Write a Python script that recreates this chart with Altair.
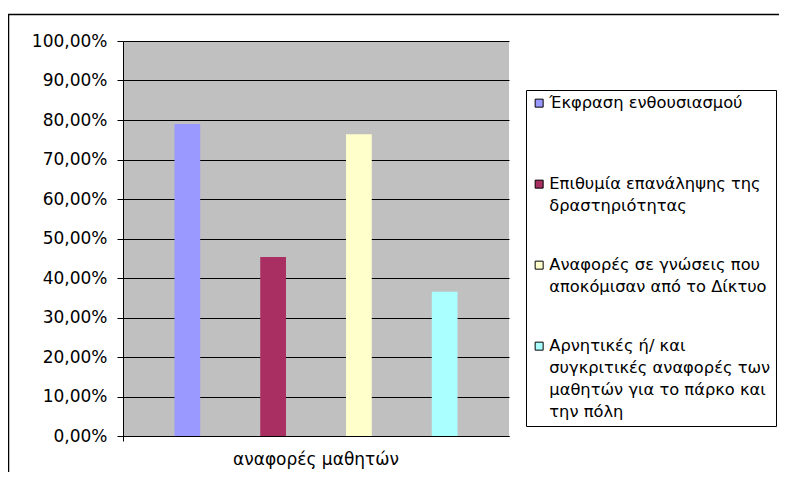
import altair as alt
import pandas as pd

category = ["αναφορές μαθητών"] * 4
series = [
    "Έκφραση ενθουσιασμού| ",
    "Επιθυμία επανάληψης της|δραστηριότητας",
    "Αναφορές σε γνώσεις που|αποκόμισαν από το Δίκτυο",
    "Αρνητικές ή/ και|συγκριτικές αναφορές των|μαθητών για το πάρκο και|την πόλη",
]
values = [0.790, 0.453, 0.764, 0.365]
colors = ["#9999FF", "#A92E62", "#FFFFCC", "#AAFFFF"]
y_ticks = [0, 0.1, 0.2, 0.3, 0.4, 0.5, 0.6, 0.7, 0.8, 0.9, 1.0]

df = pd.DataFrame({"category": category, "series": series, "value": values})

FONT = "DejaVu Sans"
DY = -8  # shared label shift (legend first line aligned with its swatch)

bars = alt.Chart(df).mark_bar().encode(
    x=alt.X(
        "category:N",
        title=None,
        scale=alt.Scale(paddingInner=0, paddingOuter=0),
        axis=alt.Axis(
            labelAngle=0, labelFont=FONT, labelFontSize=17, labelColor="black",
            labelPadding=10 - DY, tickColor="black", tickSize=5, domainColor="black",
            bandPosition=0, grid=False,
        ),
    ),
    xOffset=alt.XOffset(
        "series:N", sort=series,
        scale=alt.Scale(paddingInner=0.7, paddingOuter=0.6),
    ),
    y=alt.Y(
        "value:Q",
        title=None,
        scale=alt.Scale(domain=[0, 1], nice=False),
        axis=alt.Axis(
            values=y_ticks, labelExpr="replace(format(datum.value, '.2%'), '.', ',')",
            labelFont=FONT, labelFontSize=17, labelColor="black", labelPadding=10,
            labelOffset=-DY,
            tickColor="black", tickSize=6, domainColor="black",
            gridColor="black", gridOpacity=1, gridWidth=1,
        ),
    ),
    color=alt.Color(
        "series:N", sort=series,
        scale=alt.Scale(domain=series, range=colors),
        legend=alt.Legend(
            title=None, orient="none", legendX=403, legendY=49,
            symbolType="square", symbolSize=64, symbolStrokeColor="black",
            symbolStrokeWidth=1, symbolOpacity=1,
            labelFont=FONT, labelFontSize=16.3, labelColor="black", labelLimit=600,
            labelExpr="split(datum.label, '|')", rowPadding=42, padding=5,
            strokeColor="black", labelOffset=2, labelBaseline="top",
        ),
    ),
)

frame = alt.Chart(pd.DataFrame({"f": [0]})).mark_rect(
    fill=None, stroke="black", strokeWidth=1.5
).encode(
    x=alt.value(-114.5), x2=alt.value(900), y=alt.value(-26.5), y2=alt.value(900)
)

chart = alt.layer(bars, frame).properties(
    width=386, height=395,
    autosize=alt.AutoSizeParams(type="none"),
    padding={"left": 115, "top": 33, "right": 270, "bottom": 36},
    background="white",
).configure(
    style={"guide-label": {"lineHeight": 22, "dy": DY}}
).configure_view(
    fill="#C0C0C0", stroke=None
)

chart.save("out.html", embed_options={"renderer": "svg", "actions": False})
